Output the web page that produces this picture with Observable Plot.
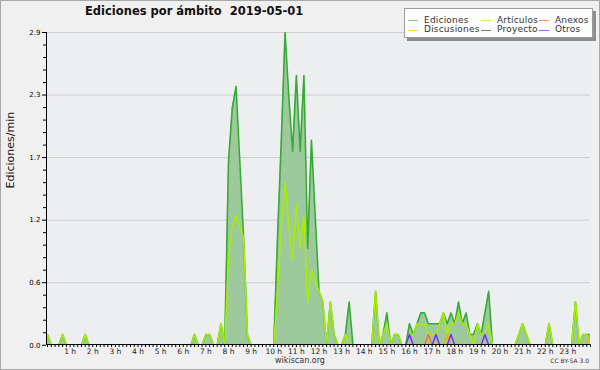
<!DOCTYPE html>
<html><head><meta charset="utf-8">
<script src="https://cdn.jsdelivr.net/npm/d3@7"></script>
<script src="https://cdn.jsdelivr.net/npm/@observablehq/plot@0.6"></script>
<style>
html,body{margin:0;padding:0;background:#f0f0f0;}
#wrap{position:relative;width:600px;height:370px;overflow:hidden;background:#f0f0f0;font-family:"DejaVu Sans",sans-serif;}
#wrap svg{position:absolute;left:0;top:0;}
#border{position:absolute;left:0;top:0;width:600px;height:370px;box-sizing:border-box;border:1px solid #a8a8a8;pointer-events:none;}
#title{position:absolute;left:85px;top:4px;font:bold 11.5px "DejaVu Sans";line-height:14px;white-space:pre;color:#111;}
#legend{position:absolute;left:404px;top:8px;width:189px;height:30px;box-sizing:border-box;background:#fdfdfd;border:1px solid #9c9c9c;box-shadow:3px 3px 0 #8e8e8e;}
.sw{position:absolute;height:1px;width:10px;}
.lt{position:absolute;font:9px "DejaVu Sans";line-height:10px;color:#333;white-space:pre;letter-spacing:0.2px;}
#foot{position:absolute;left:0;top:356px;width:600px;text-align:center;font:8px "DejaVu Sans";line-height:10px;color:#333;}
#cc{position:absolute;right:11px;top:357px;font:6px "DejaVu Sans";line-height:8px;color:#333;}
</style></head>
<body>
<div id="wrap">
  <div id="title"></div>
  <div id="legend"></div>
  <div id="foot"></div>
  <div id="cc"></div>
  <div id="border"></div>
</div>
<script>
// 10-minute slots 0..144 (00:00 .. 24:00), edits per minute
const ediciones = [
 0.1,0,0,0,0.1,0,0,0,0,0,0.1,0,
 0,0,0,0,0,0,0,0,0,0,0,0,
 0,0,0,0,0,0,0,0,0,0,0,0,
 0,0,0,0.1,0,0,0.1,0.1,0,0,0.2,0,
 1.7,2.2,2.4,1.7,1.0,0.1,0,0,0,0,0,0,
 0,1.0,1.9,2.9,2.3,1.8,2.5,1.8,2.5,0.9,1.9,1.2,
 0.5,0.4,0,0.4,0.1,0,0,0.1,0.4,0,0,0,
 0,0,0,0.5,0,0.1,0.3,0,0.1,0.1,0,0,
 0.2,0.1,0.2,0.3,0.3,0.2,0.2,0.2,0.2,0.3,0.2,0.3,
 0.2,0.4,0.2,0.3,0.1,0.1,0.2,0.1,0.3,0.5,0,0,
 0,0,0,0,0,0.1,0.2,0.1,0,0,0,0,
 0,0.2,0,0,0,0,0,0,0.4,0,0.1,0.1,
 0.1];
const articulos = [
 0.1,0,0,0,0.1,0,0,0,0,0,0.1,0,
 0,0,0,0,0,0,0,0,0,0,0,0,
 0,0,0,0,0,0,0,0,0,0,0,0,
 0,0,0,0.1,0,0,0.1,0.1,0,0,0.2,0,
 0.8,1.1,1.2,1.1,1.0,0.1,0,0,0,0,0,0,
 0,0.5,1.1,1.5,1.1,0.8,1.3,0.9,1.2,0.4,0.7,0.6,
 0.5,0.4,0,0.4,0.1,0,0,0.1,0,0,0,0,
 0,0,0,0.5,0,0.1,0.2,0,0.1,0.1,0,0,
 0.1,0.1,0.2,0.2,0.2,0.1,0.1,0.1,0.2,0.3,0.1,0.2,
 0.2,0.3,0.2,0.2,0.1,0,0.2,0.1,0.1,0.2,0,0,
 0,0,0,0,0,0.1,0.2,0.1,0,0,0,0,
 0,0.2,0,0,0,0,0,0,0.4,0,0.1,0.1,
 0];
const anexos = [
 0,0,0,0,0,0,0,0,0,0,0,0, 0,0,0,0,0,0,0,0,0,0,0,0,
 0,0,0,0,0,0,0,0,0,0,0,0, 0,0,0,0,0,0,0,0,0,0,0,0,
 0,0,0,0,0,0,0,0,0,0,0,0, 0,0,0,0,0,0,0,0,0,0,0,0,
 0,0,0,0,0,0,0,0,0,0,0,0, 0,0,0,0,0,0,0,0,0,0,0,0,
 0,0,0,0,0,0.1,0,0,0,0,0,0, 0,0,0,0,0,0,0,0,0,0,0,0,
 0,0,0,0,0,0,0,0,0,0,0,0, 0,0,0,0,0,0,0,0,0,0,0,0,
 0];
const discusiones = [
 0,0,0,0,0,0,0,0,0,0,0,0, 0,0,0,0,0,0,0,0,0,0,0,0,
 0,0,0,0,0,0,0,0,0,0,0,0, 0,0,0,0,0,0,0,0,0,0,0,0,
 0,0,0,0,0,0,0,0,0,0,0,0, 0,0,0,0,0,0,0,0,0,0,0,0,
 0,0,0,0,0,0,0,0,0,0,0,0, 0,0,0,0,0,0,0,0,0,0,0,0,
 0,0,0,0,0,0,0,0,0,0,0.1,0, 0,0,0,0,0,0,0,0,0,0,0,0,
 0,0,0,0,0,0,0,0,0,0,0,0, 0,0,0,0,0,0,0,0,0,0,0,0,
 0.1];
const proyecto = [
 0,0,0,0,0,0,0,0,0,0,0,0, 0,0,0,0,0,0,0,0,0,0,0,0,
 0,0,0,0,0,0,0,0,0,0,0,0, 0,0,0,0,0,0,0,0,0,0,0,0,
 0,0,0,0,0,0,0,0,0,0,0,0, 0,0,0,0,0,0,0,0,0,0,0,0,
 0,0,0,0,0,0,0,0,0,0,0,0, 0,0,0,0,0,0,0,0,0,0,0,0,
 0,0,0,0,0,0,0,0,0,0,0,0, 0,0,0,0,0,0,0,0,0,0,0,0,
 0,0,0,0,0,0,0,0,0,0,0,0, 0,0,0,0,0,0,0,0,0,0,0,0,
 0];
const otros = [
 0,0,0,0,0,0,0,0,0,0,0,0, 0,0,0,0,0,0,0,0,0,0,0,0,
 0,0,0,0,0,0,0,0,0,0,0,0, 0,0,0,0,0,0,0,0,0,0,0,0,
 0,0,0,0,0,0,0,0,0,0,0,0, 0,0,0,0,0,0,0,0,0,0,0,0,
 0,0,0,0,0,0,0,0,0,0,0,0, 0,0,0,0,0,0,0,0,0,0,0,0,
 0.1,0,0,0,0,0,0,0.1,0,0,0,0.1, 0,0,0,0,0,0,0,0,0.1,0,0,0,
 0,0,0,0,0,0,0,0,0,0,0,0, 0,0,0,0,0,0,0,0,0,0,0,0,
 0];
const hourLabels = ["1 h","2 h","3 h","4 h","5 h","6 h","7 h","8 h","9 h","10 h","11 h","12 h",
  "13 h","14 h","15 h","16 h","17 h","18 h","19 h","20 h","21 h","22 h","23 h"];
const yTickValues = [0, 0.58, 1.16, 1.74, 2.32, 2.9];
const yMinorValues = [0.116,0.232,0.348,0.464,0.696,0.812,0.928,1.044,1.276,1.392,1.508,1.624,
  1.856,1.972,2.088,2.204,2.436,2.552,2.668,2.784];
const seriesNames = ["Ediciones","Artículos","Anexos","Discusiones","Proyecto","Otros"];
const legendColors = ["#7ad27a","#d2f060","#ff9a66","#ffd25a","#7a7a7a","#a766ff"];
const lineColors = ["#38aa38","#a8ee00","#ff6e1e","#f2b400","#555555","#7a2cff"];

const slots = d3.range(ediciones.length);
const rows = slots.map(i => ({i, E: ediciones[i], A: articulos[i], X: anexos[i],
  D: discusiones[i], P: proyecto[i], O: otros[i]}));

const X0 = 47, X1 = 590;
const step = (X1 - X0) / (slots.length - 1);
const pxToX = px => (px - X0) / step;

const chart = Plot.plot({
  width: 600, height: 370,
  marginLeft: 46, marginRight: 10, marginTop: 32, marginBottom: 26,
  style: {background: "transparent", fontFamily: "DejaVu Sans", fontSize: "7px", color: "#000"},
  x: {domain: [0, slots.length - 1], range: [X0, X1], ticks: slots, tickSize: 3, tickFormat: () => "", label: null},
  y: {domain: [0, 2.9], range: [344.75, 32], ticks: yTickValues, tickSize: 4, tickPadding: 2,
      tickFormat: d => d.toFixed(1), label: null},
  marks: [
    Plot.frame({fill: "#edeef0", stroke: "none"}),
    Plot.ruleY(yTickValues.slice(1), {stroke: "#cdcdcd", strokeWidth: 1}),
    Plot.areaY(rows, {x: "i", y: "E", fill: "#9dc99d", clip: true}),
    Plot.lineY(rows, {x: "i", y: "E", stroke: lineColors[0], strokeWidth: 1.6, clip: true}),
    Plot.lineY(rows, {x: "i", y: "A", stroke: lineColors[1], strokeWidth: 1.5, clip: true}),
    Plot.lineY(rows, {x: "i", y: "P", stroke: lineColors[4], strokeWidth: 1.5, clip: true}),
    Plot.lineY(rows, {x: "i", y: "D", stroke: lineColors[3], strokeWidth: 1.5, clip: true}),
    Plot.lineY(rows, {x: "i", y: "X", stroke: lineColors[2], strokeWidth: 1.5, clip: true}),
    Plot.lineY(rows, {x: "i", y: "O", stroke: lineColors[5], strokeWidth: 1.5, clip: true}),
    Plot.ruleY(yMinorValues, {x1: pxToX(43), x2: pxToX(46), stroke: "#000"}),
    Plot.ruleY([0], {dy: -0.75, stroke: "#000"}),
    Plot.ruleX([0], {dx: -1, stroke: "#000"}),
    Plot.text(hourLabels, {x: (d, k) => (k + 1) * 6, y: 0, text: d => d, dy: 6, fontSize: 7.5, fill: "#222"}),
    Plot.text(["Ediciones/min"], {frameAnchor: "left", rotate: -90, dx: -36, fontSize: 11, fill: "#111"})
  ]
});
const wrap = document.getElementById("wrap");
wrap.insertBefore(chart, wrap.firstChild);

document.getElementById("title").textContent = "Ediciones por ámbito  2019-05-01";
document.getElementById("foot").textContent = "wikiscan.org";
document.getElementById("cc").textContent = "CC BY-SA 3.0";

const legend = document.getElementById("legend");
const colX = [[3, 19], [76, 92], [134, 150]];
const rowY = [11, 20.5];
// order: col1 Ediciones/Discusiones, col2 Artículos/Proyecto, col3 Anexos/Otros
const layout = [[0,0,0],[1,1,0],[2,2,0],[3,0,1],[4,1,1],[5,2,1]];
layout.forEach(([s, c, r]) => {
  const sw = document.createElement("div");
  sw.className = "sw";
  sw.style.left = colX[c][0] + "px";
  sw.style.top = rowY[r] + "px";
  sw.style.background = legendColors[s];
  legend.appendChild(sw);
  const t = document.createElement("div");
  t.className = "lt";
  t.style.left = colX[c][1] + "px";
  t.style.top = (rowY[r] - 5.5) + "px";
  t.textContent = seriesNames[s];
  legend.appendChild(t);
});
</script>
</body></html>
